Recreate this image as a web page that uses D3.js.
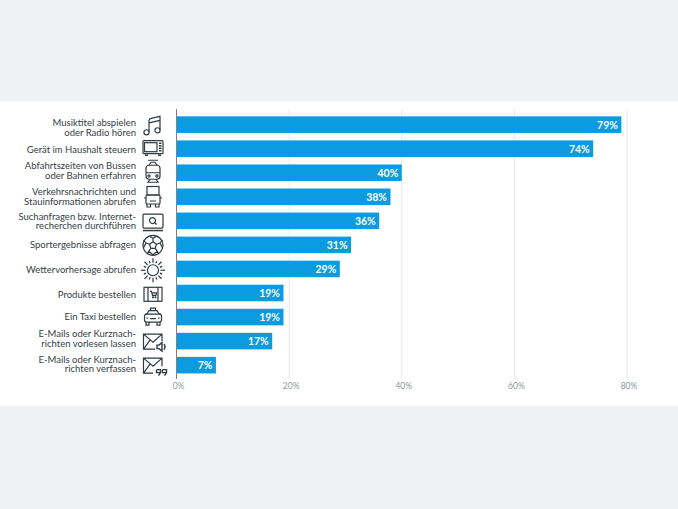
<!DOCTYPE html>
<html>
<head>
<meta charset="utf-8">
<script src="https://cdn.jsdelivr.net/npm/d3@7"></script>
<style>
  html, body { margin: 0; padding: 0; background: #eff1f4; }
  svg { display: block; }
  text { font-family: "Lato", "Noto Sans", sans-serif; }
</style>
</head>
<body>
<div id="chart"></div>
<script>
const categories = [
  ["Musiktitel abspielen", "oder Radio hören"],
  ["Gerät im Haushalt steuern"],
  ["Abfahrtszeiten von Bussen", "oder Bahnen erfahren"],
  ["Verkehrsnachrichten und", "Stauinformationen abrufen"],
  ["Suchanfragen bzw. Internet-", "recherchen durchführen"],
  ["Sportergebnisse abfragen"],
  ["Wettervorhersage abrufen"],
  ["Produkte bestellen"],
  ["Ein Taxi bestellen"],
  ["E-Mails oder Kurznach-", "richten vorlesen lassen"],
  ["E-Mails oder Kurznach-", "richten verfassen"]
];
const values = [79, 74, 40, 38, 36, 31, 29, 19, 19, 17, 7];
const ticks = [0, 20, 40, 60, 80];
const iconNames = ["music", "microwave", "tram", "truck", "search", "ball", "sun", "shop", "taxi", "mailSpeak", "mailQuote"];

// the labels and pictograms do not sit exactly on the bar centres in the original
const labelShift = [3.3, 1, -2.2, 0, 0.5, 0, 0.6, 1.3, 0, -2.7, -1];
const iconShift = [1.2, -1, -1.5, 0.2, 1.2, 0.4, 1.3, 1.3, 0, 1, 1];

const width = 678;
const height = 509;

const svg = d3.select("#chart")
  .append("svg")
  .attr("width", width)
  .attr("height", height);

// white panel
svg.append("rect")
  .attr("x", 0)
  .attr("y", 101)
  .attr("width", width)
  .attr("height", 305)
  .attr("fill", "#ffffff");

const xScale = d3.scaleLinear().domain([0, 80]).range([176.5, 627]);
const yScale = d3.scaleBand()
  .domain(d3.range(values.length))
  .range([112.5, 377.3])
  .paddingInner(0.31)
  .paddingOuter(0.16);

// grid lines
svg.selectAll(".grid")
  .data(ticks.slice(1))
  .join("line")
  .attr("x1", (d) => xScale(d))
  .attr("x2", (d) => xScale(d))
  .attr("y1", 109)
  .attr("y2", 379)
  .attr("stroke", "#e6e8ea")
  .attr("stroke-width", 1);

// bars
svg.selectAll(".bar")
  .data(values)
  .join("rect")
  .attr("x", xScale(0))
  .attr("y", (d, i) => yScale(i))
  .attr("width", (d) => xScale(d) - xScale(0))
  .attr("height", yScale.bandwidth())
  .attr("fill", "#0a9be1");

// value labels
svg.selectAll(".value")
  .data(values)
  .join("text")
  .attr("x", (d) => xScale(d) - 3.5)
  .attr("y", (d, i) => yScale(i) + yScale.bandwidth() / 2 + 4)
  .attr("text-anchor", "end")
  .attr("font-size", 10.5)
  .attr("font-weight", 700)
  .attr("fill", "#ffffff")
  .text((d) => d + "%");

// y axis line
svg.append("line")
  .attr("x1", 176.5)
  .attr("x2", 176.5)
  .attr("y1", 109)
  .attr("y2", 379)
  .attr("stroke", "#7c8388")
  .attr("stroke-width", 1);

// tick labels
svg.selectAll(".tick")
  .data(ticks)
  .join("text")
  .attr("x", (d) => xScale(d) + 2)
  .attr("y", 389)
  .attr("text-anchor", "middle")
  .attr("font-size", 8.5)
  .attr("fill", "#8f969b")
  .text((d) => d + "%");

// category labels
categories.forEach((lines, i) => {
  const cy = yScale(i) + yScale.bandwidth() / 2 + labelShift[i];
  const t = svg.append("text")
    .attr("text-anchor", "end")
    .attr("font-size", 9.5)
    .attr("fill", "#333e46");
  lines.forEach((line, k) => {
    t.append("tspan")
      .attr("x", 136)
      .attr("y", cy + 3.3 + (k - (lines.length - 1) / 2) * 9.6)
      .text(line);
  });
});

// pictograms, drawn around (0,0) in a 24px box
const icons = {
  music: (g) => {
    g.append("path").attr("d", "M-4 6 V-5 Q-4 -7 -2 -7.5 L7 -9.5 V4 M-4 -3 L7 -5.5");
    g.append("circle").attr("cx", -6.5).attr("cy", 6.5).attr("r", 2.6);
    g.append("circle").attr("cx", 4.5).attr("cy", 4.5).attr("r", 2.6);
  },
  microwave: (g) => {
    g.append("rect").attr("x", -10).attr("y", -7).attr("width", 20).attr("height", 13).attr("rx", 1);
    g.append("rect").attr("x", -8.5).attr("y", -5).attr("width", 12.5).attr("height", 9);
    g.append("path").attr("d", "M6 -4.5 H8.5 M6 -2 H8.5 M6 0.5 H8.5 M6 3 H8.5 M-8 7.5 H-5 M5 7.5 H8").attr("stroke-width", 1.4);
  },
  tram: (g) => {
    g.append("rect").attr("x", -7).attr("y", -6).attr("width", 14).attr("height", 14).attr("rx", 3);
    g.append("path").attr("d", "M-7 1.5 H7 M-4 -6 L-2 -9 H2 L4 -6 M-5 -11 H5 M-5 11 L-3 8 M5 11 L3 8 M-6 11 H6");
    g.append("circle").attr("cx", -4).attr("cy", 4.8).attr("r", 1.1);
    g.append("circle").attr("cx", 4).attr("cy", 4.8).attr("r", 1.1);
  },
  truck: (g) => {
    g.append("rect").attr("x", -6).attr("y", -10.5).attr("width", 12).attr("height", 8.5);
    g.append("rect").attr("x", -7).attr("y", -2).attr("width", 14).attr("height", 9).attr("rx", 1);
    g.append("path").attr("d", "M-7 1 H-9 M7 1 H9 M-3 4 H3 M-6 7 V10 H-2.5 V7 M6 7 V10 H2.5 V7");
  },
  search: (g) => {
    g.append("rect").attr("x", -10).attr("y", -8).attr("width", 20).attr("height", 14).attr("rx", 1);
    g.append("circle").attr("cx", -0.5).attr("cy", -1.5).attr("r", 3);
    g.append("path").attr("d", "M1.5 0.5 L3.5 2.5");
    g.append("path").attr("d", "M-10 8.5 H10").attr("stroke-width", 1.5);
  },
  ball: (g) => {
    g.append("circle").attr("r", 10);
    g.append("path").attr("d", "M0 -3.5 L3.5 -1 L2.2 3 H-2.2 L-3.5 -1 Z M0 -3.5 V-7 M3.5 -1 L7 -2.3 M2.2 3 L4.3 6 M-2.2 3 L-4.3 6 M-3.5 -1 L-7 -2.3 M-3.5 -9 L0 -7 L3.5 -9 M7 -2.3 L9.5 -5.5 M7 -2.3 L9.5 2.5 M4.3 6 L6 9 M4.3 6 L0 9.5 L-4.3 6 M-4.3 6 L-6 9 M-7 -2.3 L-9.5 -5.5 M-7 -2.3 L-9.5 2.5");
  },
  sun: (g) => {
    g.append("circle").attr("r", 5.5);
    g.selectAll("line")
      .data(d3.range(16))
      .join("line")
      .attr("x1", (d) => 7.5 * Math.cos((d * Math.PI) / 8))
      .attr("y1", (d) => 7.5 * Math.sin((d * Math.PI) / 8))
      .attr("x2", (d) => (d % 2 ? 10 : 12) * Math.cos((d * Math.PI) / 8))
      .attr("y2", (d) => (d % 2 ? 10 : 12) * Math.sin((d * Math.PI) / 8));
  },
  shop: (g) => {
    g.append("rect").attr("x", -9).attr("y", -7).attr("width", 18).attr("height", 14);
    g.append("path").attr("d", "M-5 -7 V7 M5 -7 V7 M-3 -3 H-1.5 L-0.5 1 H3 L3.5 -1.5 H-1");
    g.append("circle").attr("cx", 0).attr("cy", 3).attr("r", 0.5);
    g.append("circle").attr("cx", 2.5).attr("cy", 3).attr("r", 0.5);
  },
  taxi: (g) => {
    g.append("path").attr("d", "M-6 -3 L-4 -6.5 H4 L6 -3 M-2.5 -6.5 V-9 H2.5 V-6.5 M-6 -3 L-8 -3 M6 -3 L8 -3");
    g.append("rect").attr("x", -8.5).attr("y", -3).attr("width", 17).attr("height", 8).attr("rx", 2);
    g.append("path").attr("d", "M-7 5 V8 H-4 V5 M7 5 V8 H4 V5 M-3 1.5 H3 M-6.5 1 H-5 M5 1 H6.5");
  },
  mailSpeak: (g) => {
    g.append("path").attr("d", "M2 7 H-9.5 V-8 H9 V-1 M-9.5 -8 L0 0 L9 -8 M-9.5 7 L-3 -2");
    g.append("path").attr("d", "M4 3 H6 L9 0.5 V9 L6 6.5 H4 Z M11 2 Q13 4.7 11 7.5").attr("stroke-width", 1.4);
  },
  mailQuote: (g) => {
    g.append("path").attr("d", "M0 7 H-9.5 V-8 H9 V0 M-9.5 -8 L0 0 L9 -8 M-9.5 7 L-3 -2");
    g.append("path").attr("d", "M3.5 3.5 H7.5 V6.5 L5.5 9.5 M9.5 3.5 H13.5 V6.5 L11.5 9.5 M3.5 3.5 V6.5 H7.5 M9.5 3.5 V6.5 H13.5").attr("stroke-width", 1.4);
  }
};

iconNames.forEach((name, i) => {
  const g = svg.append("g")
    .attr("transform", `translate(153,${yScale(i) + yScale.bandwidth() / 2 + iconShift[i]})`)
    .attr("fill", "none")
    .attr("stroke", "#2f3a42")
    .attr("stroke-width", 1.2);
  icons[name](g);
});
</script>
</body>
</html>
